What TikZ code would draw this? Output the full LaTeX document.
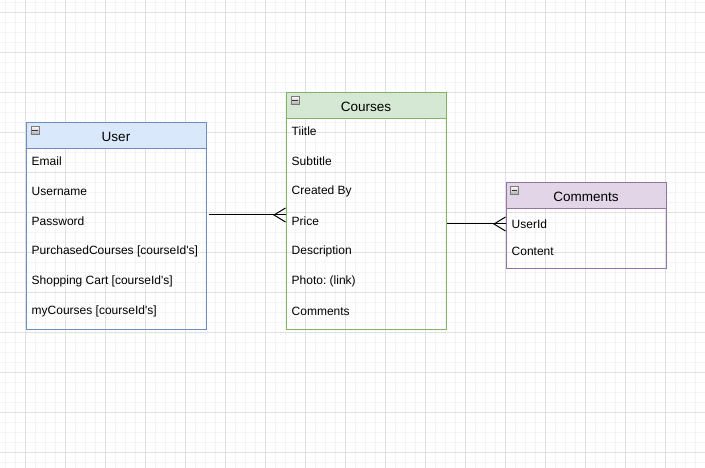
\documentclass[tikz,border=0pt]{standalone}
\usepackage{fontspec}
\setmainfont{Liberation Sans}
\newfontfamily\dfont{Liberation Sans}
\usetikzlibrary{calc}
\frenchspacing
\definecolor{gridmin}{HTML}{F4F4F4}
\definecolor{gridmaj}{HTML}{E0E0E0}
\definecolor{userfill}{HTML}{DAE8FC}
\definecolor{userstroke}{HTML}{6C8EBF}
\definecolor{coursefill}{HTML}{D5E8D4}
\definecolor{coursestroke}{HTML}{82B366}
\definecolor{commfill}{HTML}{E1D5E7}
\definecolor{commstroke}{HTML}{9673A6}
\definecolor{iconfill}{HTML}{C4C4C4}
\definecolor{iconstroke}{HTML}{7A7A7A}
\tikzset{
  hdr/.style={anchor=north west, inner sep=0pt, line width=1pt},
  title/.style={inner sep=0pt, font=\dfont\frenchspacing\fontsize{13.5}{16}\selectfont},
  entbox/.style={anchor=north west, inner sep=0pt, line width=1pt},
  row/.style={anchor=west, inner sep=0pt, xshift=6pt, font=\dfont\frenchspacing\fontsize{12}{14}\selectfont},
  minusicon/.style={anchor=north west, draw=iconstroke, top color=white!85!iconfill, bottom color=iconfill!85!black, minimum size=8pt, inner sep=0pt, line width=0.8pt},
  conn/.style={draw=black, line width=1pt},
}
\begin{document}
\begin{tikzpicture}[x=1pt,y=-1pt]
\useasboundingbox (0,0) rectangle (705,468);
\fill[white] (0,0) rectangle (705,468);
% grid
\foreach \i in {0,...,70} {\draw[gridmin, line width=0.8pt] (5.5+10*\i,0) -- (5.5+10*\i,468);}
\foreach \i in {0,...,46} {\draw[gridmin, line width=0.8pt] (0,2.5+10*\i) -- (705,2.5+10*\i);}
\foreach \i in {0,...,17} {\draw[gridmaj, line width=0.8pt] (25.5+40*\i,0) -- (25.5+40*\i,468);}
\foreach \i in {0,...,11} {\draw[gridmaj, line width=0.8pt] (0,12.5+40*\i) -- (705,12.5+40*\i);}

% ---------- User ----------
\node[hdr, fill=userfill, draw=userstroke, minimum width=180pt, minimum height=25.5pt] (userhead) at (25.5,122.5) {};
\node[title] (usertitle) at ($(userhead.center)+(0,1)$) {User};
\node[entbox, draw=userstroke, minimum width=180pt, minimum height=206pt] (userbox) at (25.5,122.5) {};
\node[minusicon] (usericon) at (30.5,126.5) {};
\draw[black!80, line width=1pt] ($(usericon.west)+(1.5,0)$) -- ($(usericon.east)+(-1.5,0)$);
\node[row] (uemail) at (25.5,161) {Email};
\node[row] (uname) at (25.5,191) {Username};
\node[row] (upass) at (25.5,221) {Password};
\node[row] (upurch) at (25.5,251) {PurchasedCourses [courseId's]};
\node[row] (ucart) at (25.5,281) {Shopping Cart [courseId's]};
\node[row] (umy) at (25.5,311) {myCourses [courseId's]};

% ---------- Courses ----------
\node[hdr, fill=coursefill, draw=coursestroke, minimum width=160pt, minimum height=25.5pt] (coursehead) at (285.5,92.5) {};
\node[title] (coursetitle) at ($(coursehead.center)+(0,1)$) {Courses};
\node[entbox, draw=coursestroke, minimum width=160pt, minimum height=236pt] (coursebox) at (285.5,92.5) {};
\node[minusicon] (courseicon) at (290.5,96.5) {};
\draw[black!80, line width=1pt] ($(courseicon.west)+(1.5,0)$) -- ($(courseicon.east)+(-1.5,0)$);
\node[row] (ctitle) at (285.5,131) {Tiitle};
\node[row] (csub) at (285.5,161) {Subtitle};
\node[row] (cby) at (285.5,191) {Created By};
\node[row] (cprice) at (285.5,221) {Price};
\node[row] (cdesc) at (285.5,251) {Description};
\node[row] (cphoto) at (285.5,281) {Photo: (link)};
\node[row] (ccomm) at (285.5,311) {Comments};

% ---------- Comments ----------
\node[hdr, fill=commfill, draw=commstroke, minimum width=160pt, minimum height=25.5pt] (commhead) at (505.5,182.5) {};
\node[title] (commtitle) at ($(commhead.center)+(0,1)$) {Comments};
\node[entbox, draw=commstroke, minimum width=160pt, minimum height=85.5pt] (commbox) at (505.5,182.5) {};
\node[minusicon] (commicon) at (510,186.5) {};
\draw[black!80, line width=1pt] ($(commicon.west)+(1.5,0)$) -- ($(commicon.east)+(-1.5,0)$);
\node[row] (muser) at (505.5,224) {UserId};
\node[row] (mcont) at (505.5,251) {Content};

% ---------- connectors ----------
\coordinate (c1s) at ($(userbox.east |- 0,215)+(2.5,0)$);
\coordinate (c1e) at (coursebox.west |- 0,215);
\draw[conn] (c1s) -- (c1e);
\draw[conn] ($(c1e)+(0,-7)$) -- ($(c1e)+(-11.5,0)$) -- ($(c1e)+(0,7)$);

\coordinate (c2s) at ($(coursebox.east |- 0,224)+(0.5,0)$);
\coordinate (c2e) at (commbox.west |- 0,224);
\draw[conn] (c2s) -- (c2e);
\draw[conn] ($(c2e)+(0,-7)$) -- ($(c2e)+(-11.5,0)$) -- ($(c2e)+(0,7)$);
\end{tikzpicture}
\end{document}
